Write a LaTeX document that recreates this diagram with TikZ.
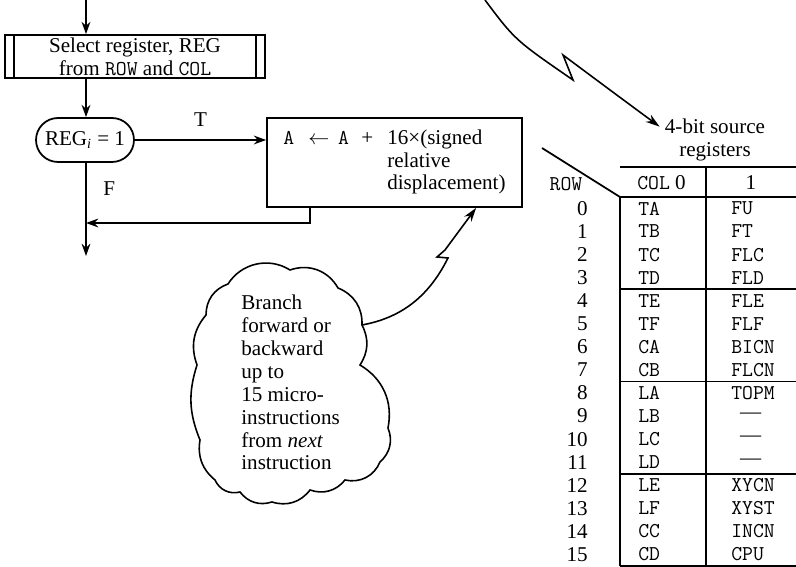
\documentclass[tikz,border=0pt]{standalone}
\usepackage{fontspec}
\setmainfont{Liberation Serif}
\usetikzlibrary{arrows.meta,calc}
\tikzset{every node/.style={font=\fontsize{12}{13}\selectfont},
  blk/.style={draw,line width=1pt,inner sep=0pt},
  flow/.style={line width=1pt,-{Stealth[length=7pt,width=5pt]}},
  bolt/.style={line width=.9pt,-{Stealth[length=8pt,width=5pt]}},
  rule/.style={line width=1pt}}
\begin{document}
\begin{tikzpicture}[x=.02cm,y=-.02cm]
\useasboundingbox(0,0)rectangle(796,567);
% flowchart
\node[blk,minimum width=5.2cm,minimum height=.86cm,align=center](s)at(135,56.5){Select register, REG\\from \texttt{ROW} and \texttt{COL}};
\draw[rule]($(s.north west)+(10,0)$)--($(s.south west)+(10,0)$);\draw[rule]($(s.north east)+(-10,0)$)--($(s.south east)+(-10,0)$);
\node[blk,minimum width=1.96cm,minimum height=.88cm,rounded corners=.44cm](d)at(85,140){REG\textsubscript{\textit{i}}\hspace{3pt}=\hspace{3pt}1};
\node[blk,minimum width=5.1cm,minimum height=1.78cm](a)at(394.5,162.5){\begin{tabular}{@{}l@{\hspace{8pt}}l@{}}\texttt{A}\hspace{8pt}$\leftarrow$\hspace{5pt}\texttt{A}\hspace{7pt}+&16×(signed\\&relative\\&displacement)\end{tabular}};
\coordinate(t)at(86,0);\coordinate(e)at(86,256);\coordinate(j)at(86,223);
\draw[flow](t)--(s.north-|t);\draw[flow](s.south-|t)--(d.north-|t);
\draw[flow](d.east)--(d.east-|a.west)node[midway,above=4pt](T){T};
\draw[flow](d.south-|t)--(e)node[pos=.28,right=6pt](F){F};
\draw[flow]($(a.south west)+(44,0)$)|-(j);
% comment cloud
\node[align=left,anchor=north west,inner sep=0pt](c)at(241,295){Branch\\forward or\\backward\\up to\\15 micro-\\instructions\\from \textit{next}\\instruction};
\draw[line width=.9pt](206,315)to[bend left=35](228,284)to[bend left=45](290,270)to[bend left=40](338,288)
  to[bend left=35](362,325)to[bend left=30](360,365)to[bend left=35](388,428)to[bend left=35](380,462)
  to[bend left=40](345,480)to[bend left=35](310,490)to[bend left=35](272,502)to[bend left=35](240,492)
  to[bend left=40](215,480)to[bend left=30](200,440)to[bend left=20](197,365)to[bend left=30]cycle;
\coordinate(k)at(362,325);
\draw[bolt](k)..controls(400,318)and(428,298)..(448,258)--(437,257)--(445,250)--($(a.south west)+(210,0)$);
% register table
\node[align=center,inner sep=0pt](h)at(715,140){4-bit source\\registers};
\coordinate(u)at(485,0);
\draw[bolt](u)..controls(515,40)..(573,80)--(563,55)..controls(610,90)..($(h.north west)+(-5,8)$);
\draw[rule](542,148)--(620,197);\draw[rule](620,167)--(796,167);
\foreach \y in {197,289.25,381.5,473.75,566}\draw[rule](620,\y)--(796,\y);
\draw[rule](620,197)--(620,566);\draw[rule](706,167)--(706,566);
\node(r)at(566,184){\texttt{ROW}};\node[anchor=west,inner sep=0pt](c0)at(637,183){\texttt{COL} 0};\node(c1)at(751,183){1};
\foreach \n/\p/\q in {0/TA/FU,1/TB/FT,2/TC/FLC,3/TD/FLD,4/TE/FLE,5/TF/FLF,6/CA/BICN,7/CB/FLCN,8/LA/TOPM,9/LB/{\hspace{5pt}\textrm{—}},10/LC/{\hspace{5pt}\textrm{—}},11/LD/{\hspace{5pt}\textrm{—}},12/LE/XYCN,13/LF/XYST,14/CC/INCN,15/CD/CPU}{
\node[anchor=east,inner sep=0pt](r\n)at(588,{208.5+23.06*\n}){\n};
\node[anchor=west,inner sep=0pt](p\n)at(638,{208.5+23.06*\n}){\texttt{\p}};
\node[anchor=west,inner sep=0pt](q\n)at(731,{208.5+23.06*\n}){\texttt{\q}};}
\end{tikzpicture}
\end{document}
